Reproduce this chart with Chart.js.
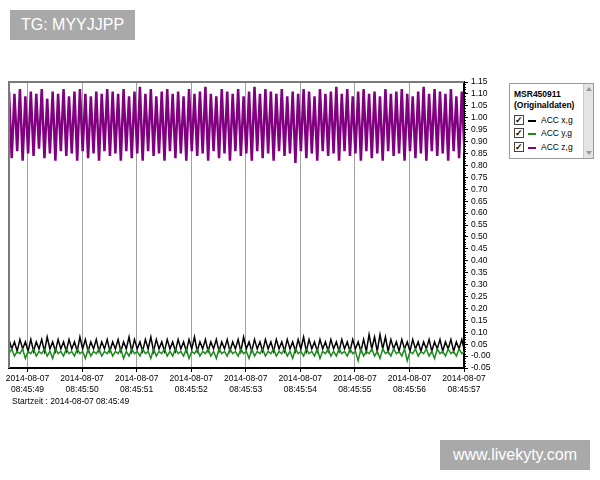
<!DOCTYPE html>
<html>
<head>
<meta charset="utf-8">
<script src="https://cdn.jsdelivr.net/npm/chart.js@4.4.1/dist/chart.umd.min.js"></script>
<style>
  body { margin: 0; background: #fff; font-family: "Liberation Sans", Arial, sans-serif; }
  #wrap { position: relative; width: 600px; height: 480px; }
  canvas { position: absolute; left: 0; top: 0; }
  .wm { position: absolute; background: #a9a9a9; color: #fff; font-size: 16px; line-height: 30px; text-align: center; }
  #legend { position: absolute; left: 509px; top: 83px; width: 83px; height: 74px; border: 1px solid #9a9a9a; background: #fff; font-size: 8.5px; color: #000; }
  #legend .title { position: absolute; left: 4px; font-weight: bold; font-size: 8.5px; }
  #legend .row { position: absolute; left: 4px; height: 10px; line-height: 10px; }
  #legend .cb { position: absolute; left: 0; top: 0; width: 8px; height: 8px; border: 1px solid #444; font-size: 9px; font-weight: bold; line-height: 8px; text-align: center; }
  #legend .ln { position: absolute; left: 14px; top: 5px; width: 8px; height: 2px; }
  #legend .lb { position: absolute; left: 27px; top: 0; white-space: nowrap; }
  #scroll { position: absolute; right: 0; top: 0; width: 9px; height: 74px; background: #e4e4e4; border-left: 1px solid #c8c8c8; }
  #scroll .arr { position: absolute; left: 2px; width: 0; height: 0; border-left: 3px solid transparent; border-right: 3px solid transparent; }
  #startzeit { position: absolute; left: 12px; top: 396px; font-size: 8.5px; }
</style>
</head>
<body>
<div id="wrap">
  <canvas id="chart" width="600" height="480"></canvas>
  <div class="wm" style="left:10px;top:10px;width:125px;">TG: MYYJJPP</div>
  <div class="wm" style="left:440px;top:440px;width:150px;">www.livekyty.com</div>
  <div id="legend">
    <div class="title" style="top:5px;">MSR450911</div>
    <div class="title" style="top:16px;">(Originaldaten)</div>
    <div id="legendRows"></div>
    <div id="scroll">
      <div class="arr" style="top:3px;border-bottom:4px solid #999;"></div>
      <div class="arr" style="bottom:3px;border-top:4px solid #999;"></div>
    </div>
  </div>
  <div id="startzeit"></div>
</div>
<script>
const seriesNames = ["ACC x,g", "ACC y,g", "ACC z,g"];
const seriesColors = ["#000000", "#1a8a1a", "#800080"];
const startLabel = "Startzeit : 2014-08-07 08:45:49";
const tickDate = "2014-08-07";
const tickSeconds = [49, 50, 51, 52, 53, 54, 55, 56, 57];
const tickTimes = ["08:45:49", "08:45:50", "08:45:51", "08:45:52", "08:45:53", "08:45:54", "08:45:55", "08:45:56", "08:45:57"];
const tStart = 48.66;
const tStep = 0.05;

// ACC z,g (purple)
const zAcc = [
  1.11,0.83,1.10,0.86,1.12,0.82,1.09,0.85,1.11,0.84,1.10,0.87,1.12,0.83,1.08,0.85,1.11,0.82,1.10,0.86,
  1.12,0.84,1.09,0.85,1.11,0.82,1.12,0.86,1.10,0.83,1.09,0.85,1.11,0.82,1.10,0.86,1.12,0.84,1.11,0.85,
  1.10,0.82,1.12,0.86,1.09,0.83,1.11,0.85,1.13,0.82,1.10,0.86,1.12,0.84,1.09,0.85,1.11,0.82,1.12,0.86,
  1.10,0.83,1.11,0.85,1.09,0.82,1.12,0.86,1.10,0.84,1.11,0.85,1.13,0.82,1.10,0.86,1.09,0.83,1.12,0.85,
  1.11,0.82,1.10,0.86,1.12,0.84,1.09,0.85,1.11,0.82,1.13,0.86,1.10,0.83,1.12,0.85,1.11,0.82,1.10,0.86,
  1.12,0.84,1.09,0.85,1.11,0.81,1.10,0.86,1.12,0.83,1.11,0.85,1.09,0.82,1.12,0.86,1.10,0.84,1.11,0.85,
  1.13,0.82,1.10,0.86,1.12,0.84,1.09,0.85,1.11,0.82,1.12,0.86,1.10,0.83,1.11,0.85,1.09,0.82,1.12,0.86,
  1.10,0.84,1.11,0.85,1.12,0.82,1.10,0.86,1.09,0.83,1.11,0.85,1.13,0.82,1.10,0.86,1.12,0.84,1.11,0.85,
  1.10,0.82,1.12,0.86,1.09,0.83,1.11,0.85
];

// ACC x,g (black)
const xAcc = [
  0.07,0.03,0.06,0.02,0.07,0.03,0.06,0.02,0.07,0.02,0.06,0.03,0.07,0.02,0.08,0.03,0.06,0.02,0.07,0.03,
  0.06,0.02,0.07,0.03,0.06,0.02,0.08,0.03,0.07,0.02,0.06,0.03,0.07,0.02,0.06,0.03,0.07,0.02,0.06,0.03,
  0.07,0.02,0.06,0.03,0.08,0.02,0.07,0.03,0.06,0.02,0.07,0.03,0.08,0.02,0.07,0.03,0.06,0.02,0.07,0.03,
  0.06,0.02,0.07,0.03,0.06,0.02,0.07,0.03,0.08,0.02,0.06,0.03,0.07,0.02,0.06,0.03,0.07,0.02,0.06,0.03,
  0.07,0.02,0.06,0.03,0.07,0.02,0.08,0.03,0.06,0.02,0.07,0.03,0.06,0.02,0.07,0.03,0.06,0.02,0.07,0.03,
  0.06,0.02,0.07,0.03,0.06,0.02,0.07,0.03,0.08,0.02,0.07,0.03,0.06,0.02,0.07,0.03,0.06,0.02,0.07,0.03,
  0.06,0.02,0.07,0.03,0.06,0.02,0.07,0.03,0.06,0.02,0.07,0.02,0.09,0.03,0.08,0.02,0.09,0.03,0.08,0.02,
  0.07,0.03,0.06,0.02,0.07,0.03,0.06,0.02,0.07,0.03,0.06,0.02,0.06,0.03,0.07,0.02,0.06,0.03,0.07,0.02,
  0.06,0.03,0.07,0.02,0.06,0.03,0.07,0.02
];

// ACC y,g (green)
const yAcc = [
  0.01,0.03,0.00,0.02,0.01,0.03,-0.01,0.02,0.01,0.03,0.00,0.02,0.01,0.03,0.00,0.02,-0.01,0.03,0.01,0.02,
  0.00,0.03,0.01,0.02,0.00,0.03,0.01,0.02,-0.01,0.03,0.00,0.02,0.01,0.03,0.00,0.02,0.01,0.03,0.00,0.02,
  0.01,0.03,-0.01,0.02,0.00,0.03,0.01,0.02,0.00,0.03,0.01,0.02,-0.01,0.03,0.00,0.02,0.01,0.03,0.00,0.02,
  0.00,0.03,0.01,0.02,0.00,0.03,-0.01,0.02,0.01,0.03,0.00,0.02,0.01,0.03,0.00,0.02,-0.01,0.03,0.01,0.02,
  0.00,0.03,0.01,0.02,0.00,0.03,0.01,0.02,-0.01,0.03,0.00,0.02,0.01,0.03,0.00,0.02,0.01,0.03,0.00,0.02,
  0.01,0.03,0.00,0.02,-0.01,0.03,0.01,0.02,0.00,0.03,0.01,0.02,0.00,0.03,-0.01,0.02,0.01,0.03,0.00,0.02,
  0.00,0.03,0.01,0.02,0.00,0.03,0.01,0.02,-0.02,0.03,0.00,0.02,0.01,0.03,0.00,0.02,-0.01,0.03,0.01,0.02,
  0.00,0.03,0.01,0.02,0.00,0.03,-0.02,0.02,0.01,0.03,0.00,0.02,0.01,0.03,0.00,0.02,-0.01,0.03,0.01,0.02,
  0.00,0.03,0.01,0.02,0.00,0.03,0.01,0.02
];

function toPoints(values) {
  return values.map((v, i) => ({ x: tStart + i * tStep, y: v }));
}

// legend rows (html, so the text stays text)
const rowTops = [31, 44, 58];
const rowsEl = document.getElementById("legendRows");
seriesNames.forEach((name, i) => {
  const row = document.createElement("div");
  row.className = "row";
  row.style.top = rowTops[i] + "px";
  row.innerHTML = '<div class="cb">&#10003;</div><div class="ln" style="background:' + seriesColors[i] + '"></div><div class="lb">' + name + "</div>";
  rowsEl.appendChild(row);
});
document.getElementById("startzeit").textContent = startLabel;

const framePlugin = {
  id: "frame",
  afterDraw(chart) {
    const { ctx, chartArea: a, scales } = chart;
    ctx.save();
    ctx.strokeStyle = "#7a7a7a";
    ctx.lineWidth = 2;
    ctx.beginPath();
    ctx.moveTo(a.left, a.bottom);
    ctx.lineTo(a.left, a.top);
    ctx.lineTo(a.right, a.top);
    ctx.stroke();
    // minor ticks on the value axis
    ctx.strokeStyle = "#000";
    ctx.lineWidth = 1;
    const y = scales.y;
    for (let v = -5; v <= 115; v++) {
      if (v % 5 === 0) continue;
      const py = Math.round(y.getPixelForValue(v / 100)) + 0.5;
      ctx.beginPath();
      ctx.moveTo(a.right, py);
      ctx.lineTo(a.right + 2, py);
      ctx.stroke();
    }
    ctx.restore();
  },
};

const tickFont = { family: "'Liberation Sans', Arial, sans-serif", size: 8.5 };

new Chart(document.getElementById("chart"), {
  type: "line",
  data: {
    datasets: [
      { label: seriesNames[1], data: toPoints(yAcc), borderColor: seriesColors[1], borderWidth: 1.5 },
      { label: seriesNames[0], data: toPoints(xAcc), borderColor: seriesColors[0], borderWidth: 1.5 },
      { label: seriesNames[2], data: toPoints(zAcc), borderColor: seriesColors[2], borderWidth: 2.5 },
    ],
  },
  options: {
    responsive: false,
    animation: false,
    layout: { padding: { left: 9, top: 82, right: 0, bottom: 0 } },
    elements: { point: { radius: 0 }, line: { tension: 0 } },
    plugins: { legend: { display: false }, tooltip: { enabled: false } },
    scales: {
      x: {
        type: "linear",
        min: tStart,
        max: 57,
        afterFit: (s) => { s.height = 112; },
        grid: { color: "#a0a0a0", tickColor: "#000", tickLength: 4 },
        border: { color: "#000", width: 2 },
        ticks: {
          stepSize: 1,
          includeBounds: false,
          autoSkip: false,
          maxRotation: 0,
          padding: 2,
          color: "#000",
          font: tickFont,
          callback: (val) => {
            const i = tickSeconds.indexOf(Math.round(val));
            return i < 0 ? "" : [tickDate, tickTimes[i]];
          },
        },
      },
      y: {
        position: "right",
        min: -0.05,
        max: 1.15,
        afterFit: (s) => { s.width = 136; },
        grid: { drawOnChartArea: false, tickColor: "#000", tickLength: 4 },
        border: { color: "#000", width: 2 },
        ticks: {
          stepSize: 0.05,
          autoSkip: false,
          padding: 3,
          color: "#000",
          font: tickFont,
          callback: (val) => val.toFixed(2),
        },
      },
    },
  },
  plugins: [framePlugin],
});
</script>
</body>
</html>
